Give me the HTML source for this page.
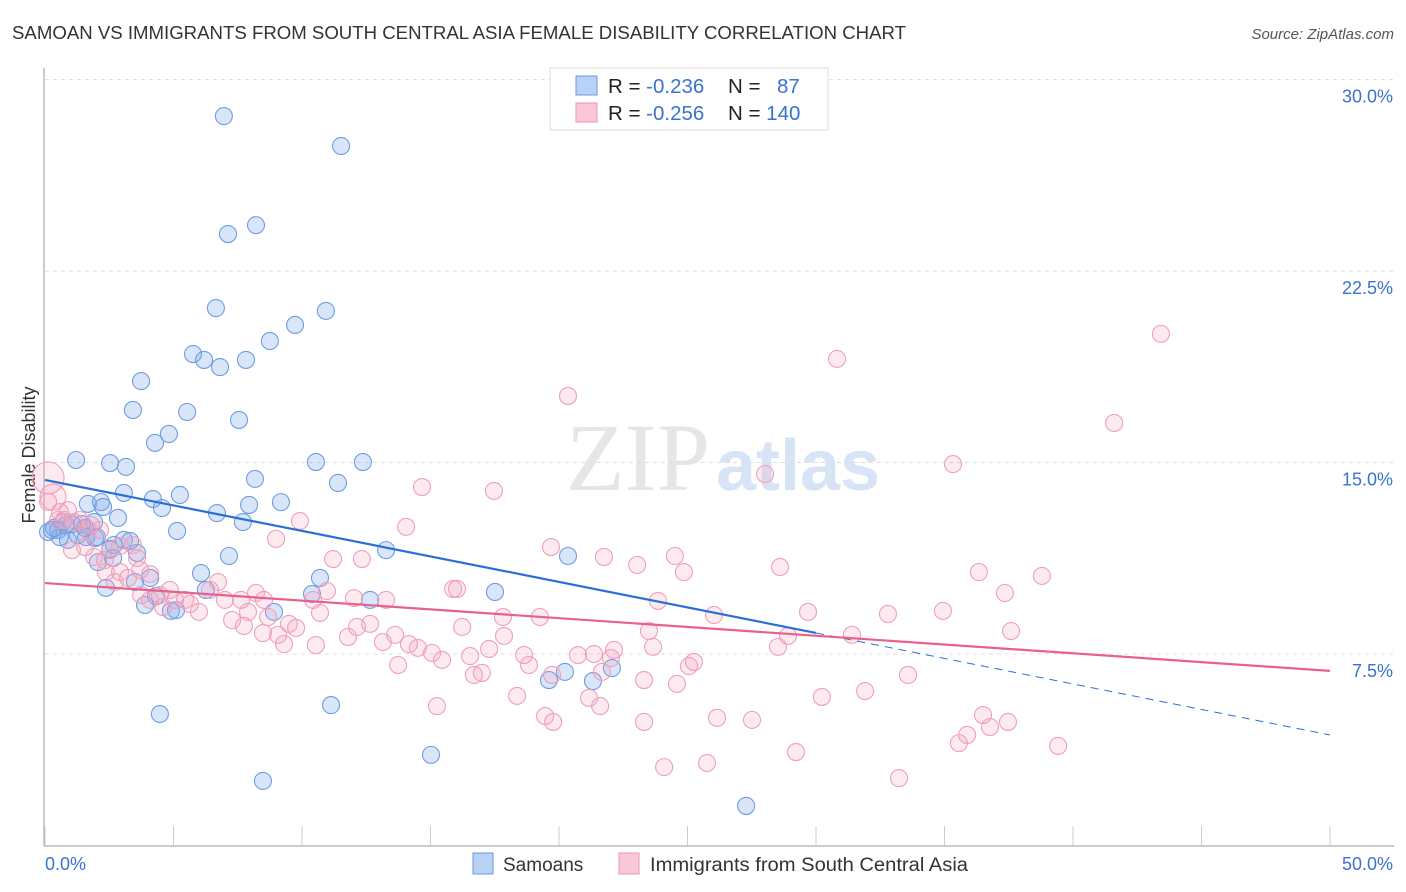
<!DOCTYPE html>
<html><head><meta charset="utf-8"><style>
body{margin:0;background:#fff;font-family:"Liberation Sans",sans-serif;}
svg{display:block}
</style></head><body>
<svg id="chart" width="1406" height="892" viewBox="0 0 1406 892">
<text x="12" y="39" font-size="18" fill="#333" textLength="894" lengthAdjust="spacingAndGlyphs">SAMOAN VS IMMIGRANTS FROM SOUTH CENTRAL ASIA FEMALE DISABILITY CORRELATION CHART</text>
<text x="1394" y="39" font-size="15" fill="#555" font-style="italic" text-anchor="end">Source: ZipAtlas.com</text>
<text x="710" y="490" font-size="96" fill="#e6e6e6" font-family="Liberation Serif,serif" text-anchor="end">ZIP</text>
<text x="716" y="490" font-size="72" fill="#d6e4f5" font-weight="bold">atlas</text>
<g id="grid"></g>
<line x1="44" y1="68" x2="44" y2="846" stroke="#bbb" stroke-width="1.5"/>
<line x1="44" y1="846" x2="1394" y2="846" stroke="#bbb" stroke-width="1.5"/>
<text x="35" y="455" font-size="18" fill="#333" text-anchor="middle" transform="rotate(-90 35 455)">Female Disability</text>
<text x="45" y="870" font-size="18" fill="#3a72d0">0.0%</text>
<text x="1393" y="870" font-size="18" fill="#3a72d0" text-anchor="end">50.0%</text>
<g id="pts"></g>
<g id="trends"></g>
<g>
<rect x="550" y="68" width="278" height="62" fill="#fff" stroke="#ddd"/>
<rect x="576" y="76" width="21" height="19" fill="#b8d2f5" stroke="#6b9ae0"/>
<rect x="576" y="103" width="21" height="19" fill="#f9c7d6" stroke="#eb94b0"/>
<text x="608" y="93" font-size="20.5" fill="#222">R = <tspan fill="#3a72d0">-0.236</tspan></text>
<text x="728" y="93" font-size="20.5" fill="#222">N = <tspan fill="#3a72d0" x="777">87</tspan></text>
<text x="608" y="120" font-size="20.5" fill="#222">R = <tspan fill="#3a72d0">-0.256</tspan></text>
<text x="728" y="120" font-size="20.5" fill="#222">N = <tspan fill="#3a72d0">140</tspan></text>
</g>
<rect x="473" y="853" width="20" height="21" fill="#b8d2f5" stroke="#6b9ae0"/>
<text x="503" y="871" font-size="19" fill="#333">Samoans</text>
<rect x="619" y="853" width="20" height="21" fill="#f9c7d6" stroke="#eb94b0"/>
<text x="650" y="871" font-size="19" fill="#333" textLength="318" lengthAdjust="spacingAndGlyphs">Immigrants from South Central Asia</text>
</svg>
<script>
const yTicks=[7.5,15,22.5,30];
const yTickLabels=["7.5%","15.0%","22.5%","30.0%"];
const xTicks=[0,5,10,15,20,25,30,35,40,45,50];
const samoanX=[6.96,11.52,7.12,8.21,6.65,10.93,9.73,8.75,5.76,6.19,6.81,7.82,3.74,3.42,5.53,7.55,4.82,4.28,1.21,2.53,3.15,10.54,12.37,8.17,11.40,3.07,5.25,4.20,1.67,2.18,2.26,4.55,7.94,9.18,6.69,2.84,1.91,7.70,0.70,1.05,1.44,0.27,0.51,1.28,1.95,0.89,0.58,0.12,5.14,3.07,3.31,2.68,1.60,3.58,2.65,7.16,13.27,20.35,2.06,4.09,6.07,10.70,2.37,3.50,6.26,4.32,3.89,4.90,5.10,10.39,12.65,17.51,8.91,19.61,20.23,21.32,22.06,4.47,11.13,15.02,8.48,27.28,2.02,1.56,0.35,0.82,2.53];
const samoanY=[28.57,27.40,23.95,24.30,21.05,20.94,20.39,19.76,19.25,19.02,18.74,19.02,18.19,17.06,16.98,16.67,16.12,15.77,15.10,14.98,14.83,15.02,15.02,14.36,14.20,13.81,13.73,13.57,13.38,13.45,13.26,13.22,13.34,13.45,13.02,12.83,12.67,12.67,12.67,12.59,12.59,12.36,12.36,12.16,12.04,11.97,12.08,12.28,12.32,11.97,11.93,11.77,12.08,11.46,11.26,11.34,11.57,11.34,11.10,10.48,10.67,10.48,10.09,10.32,10.01,9.77,9.42,9.19,9.22,9.85,9.62,9.93,9.15,6.48,6.80,6.44,6.95,5.15,5.50,3.55,2.53,1.55,12.08,12.44,12.44,12.55,11.61];
const immX=[43.42,30.82,20.35,41.60,35.33,28.02,14.67,17.47,9.92,14.05,8.99,19.69,21.75,24.51,11.21,12.33,23.04,24.86,28.60,36.34,38.79,37.35,32.80,34.94,29.69,26.03,23.85,19.26,17.82,15.88,16.03,10.97,12.02,13.27,10.43,8.21,6.73,6.42,4.86,5.45,5.64,4.09,3.74,4.59,5.99,7.00,7.63,8.52,7.90,8.68,9.49,9.07,9.77,10.70,10.54,7.28,7.74,8.48,9.30,12.14,12.65,11.79,13.15,13.62,14.16,14.51,15.06,15.45,13.74,16.54,17.28,17.86,18.64,18.83,16.23,16.69,17.00,18.37,19.73,20.74,21.36,22.14,23.50,23.66,22.02,21.67,21.17,21.60,23.31,24.59,25.06,25.25,28.91,28.52,30.23,31.91,33.58,31.40,37.59,19.46,19.77,15.25,23.31,26.15,27.51,29.22,24.09,25.76,33.23,35.56,35.88,36.50,36.77,37.47,39.42,0.12,0.31,0.89,1.36,1.13,1.67,2.14,1.56,1.05,1.91,2.33,2.92,2.37,2.72,3.23,3.70,4.09,3.42,2.92,1.79,0.58,0.51,0.12,0.74,2.53,3.58,5.06,4.47];
const immY=[20.04,19.06,17.61,16.55,14.94,14.55,14.04,13.89,12.71,12.48,12.01,11.69,11.30,11.34,11.22,11.22,10.99,10.71,10.91,10.71,10.56,9.89,9.07,9.19,9.15,9.03,9.58,8.95,8.95,10.05,10.05,9.97,9.69,9.62,9.62,9.89,10.32,10.01,10.01,9.62,9.46,9.62,9.81,9.34,9.15,9.62,9.62,9.62,9.15,8.95,8.68,8.25,8.52,9.11,7.85,8.83,8.60,8.32,7.89,8.56,8.68,8.17,7.97,8.25,7.89,7.74,7.54,7.27,7.07,7.42,7.70,8.21,7.46,7.07,8.56,6.68,6.76,5.86,6.68,7.46,7.50,7.66,8.40,7.78,7.34,6.80,5.78,5.46,6.48,6.33,7.03,7.19,8.21,7.78,5.82,6.05,6.68,8.25,8.40,5.07,4.84,5.46,4.84,5.00,4.92,3.66,3.07,3.23,2.64,4.01,4.33,5.11,4.64,4.84,3.90,14.40,13.65,13.14,12.75,12.67,12.36,12.36,11.69,11.57,11.30,11.18,10.71,10.71,10.32,10.48,10.79,10.63,11.77,11.73,12.55,13.06,12.75,13.46,12.75,11.57,11.26,9.62,9.81];
const samoanTrend=[14.32,4.33];
const samoanSolidEnd=30;
const immTrend=[10.28,6.84];

const NS="http://www.w3.org/2000/svg";
const X=v=>45+v*25.7;
const Y=v=>845.5-v*25.53;
function mk(tag,attrs,parent){const e=document.createElementNS(NS,tag);for(const k in attrs)e.setAttribute(k,attrs[k]);parent.appendChild(e);return e;}
const grid=document.getElementById('grid');
yTicks.forEach((t,i)=>{
  const l=mk('line',{x1:45,x2:1394,y1:Y(t),y2:Y(t),stroke:'#ddd','stroke-dasharray':'4,4'},grid);
  
  
  const tx=mk('text',{x:1393,y:Y(t)+23,'font-size':18,fill:'#3a72d0','text-anchor':'end'},grid);
  tx.textContent=yTickLabels[i];
  
  
});
xTicks.forEach(t=>{
  const l=mk('line',{x1:X(t),x2:X(t),y1:826,y2:846,stroke:'#ccc'},grid);
  
  
});
const pts=document.getElementById('pts');
samoanX.forEach((v,i)=>{
  const c=mk('circle',{cx:X(v),cy:Y(samoanY[i]),r:8.5,fill:'rgba(130,172,238,0.3)',stroke:'#6e9de0','stroke-width':1.1},pts);
  
  
});
immX.forEach((v,i)=>{
  const big=(v===0.12&&immY[i]===14.40)?16:((v===0.31&&immY[i]===13.65)?13:8.5);
  const c=mk('circle',{cx:X(v),cy:Y(immY[i]),r:big,fill:'rgba(245,160,188,0.22)',stroke:'#eea0ba','stroke-width':1.1},pts);
  
  
});
const tr=document.getElementById('trends');
const sy=x=>samoanTrend[0]+(samoanTrend[1]-samoanTrend[0])*x/50;
let l1=mk('line',{x1:X(0),y1:Y(sy(0)),x2:X(samoanSolidEnd),y2:Y(sy(samoanSolidEnd)),stroke:'#2a6fd6','stroke-width':2.2},tr);


let l2=mk('line',{x1:X(samoanSolidEnd),y1:Y(sy(samoanSolidEnd)),x2:X(50),y2:Y(sy(50)),stroke:'#2a6fd6','stroke-width':1,'stroke-dasharray':'8,6'},tr);


let l3=mk('line',{x1:X(0),y1:Y(immTrend[0]),x2:X(50),y2:Y(immTrend[1]),stroke:'#e8608f','stroke-width':2.2},tr);


</script>
</body></html>
